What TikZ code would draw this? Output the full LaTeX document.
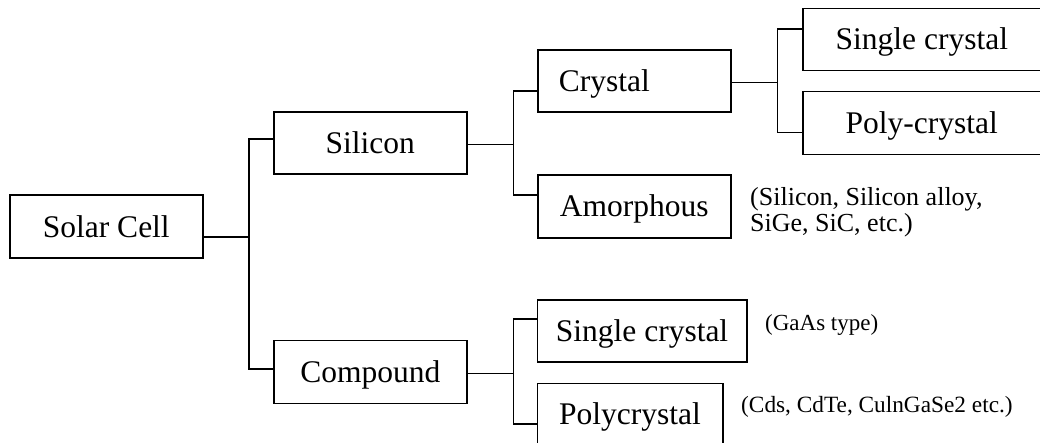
\documentclass[tikz,border=0pt]{standalone}
\usepackage{fontspec}
\setmainfont{Liberation Serif}
\begin{document}
\begin{tikzpicture}[x=1pt,y=-1pt,
  box/.style={draw=black, line width=1.6pt, anchor=north west, inner sep=0pt,
    font=\fontsize{31.5}{34}\selectfont, text height=20.8pt, text depth=0pt},
  ann/.style={anchor=base west, inner sep=0pt, align=left},
  link/.style={draw=black, line width=1.6pt}]
\useasboundingbox (0,0) rectangle (1040,442);
\fill[white] (0,0) rectangle (1040,442);
% boxes
\node[box, minimum width=193pt, minimum height=63pt] (solar) at (9,194.3) {Solar Cell};
\node[box, minimum width=193pt, minimum height=62pt] (sil) at (273,111) {Silicon};
\node[box, minimum width=193pt, minimum height=63pt] (comp) at (273,339.5) {Compound};
\node[box, minimum width=193pt, minimum height=62pt, text width=151pt, inner xsep=21pt, align=left] (cry) at (537,49) {Crystal};
\node[box, minimum width=193pt, minimum height=63pt] (amo) at (537,174) {Amorphous};
\node[box, minimum width=238pt, minimum height=62pt] (sc1) at (802,7.5) {Single crystal};
\node[box, minimum width=238pt, minimum height=63pt] (pc1) at (802,90.5) {Poly-crystal};
\node[box, minimum width=209.5pt, minimum height=62pt] (sc2) at (536.5,299) {Single crystal};
\node[box, minimum width=185.5pt, minimum height=62pt] (pc2) at (536.5,382.5) {Polycrystal};
% annotations
\node[ann, font=\fontsize{26}{26.7}\selectfont] (a1) at (750,231.7) {(Silicon, Silicon alloy,\\SiGe, SiC, etc.)};
\node[ann, font=\fontsize{23}{26}\selectfont] (a2) at (765,330) {(GaAs type)};
\node[ann, font=\fontsize{23.3}{26}\selectfont] (a3) at (741,412.3) {(Cds, CdTe, CulnGaSe2 etc.)};
% junction coordinates
\coordinate (j1t) at (249,139);
\coordinate (j1m) at (249,236.7);
\coordinate (j1b) at (249,369);
\coordinate (j2t) at (513.5,90.7);
\coordinate (j2m) at (513.5,144.3);
\coordinate (j2b) at (513.5,194.7);
\coordinate (j3t) at (513.5,319);
\coordinate (j3m) at (513.5,373.5);
\coordinate (j3b) at (513.5,424);
\coordinate (j4t) at (777.5,28.7);
\coordinate (j4m) at (777.5,82.5);
\coordinate (j4b) at (777.5,132.3);
% connectors
\draw[link] (solar.east |- j1m) -- (j1m);
\draw[link] (sil.west |- j1t) -- (j1t) -- (j1b) -- (comp.west |- j1b);
\draw[link] (sil.east |- j2m) -- (j2m);
\draw[link] (cry.west |- j2t) -- (j2t) -- (j2b) -- (amo.west |- j2b);
\draw[link] (comp.east |- j3m) -- (j3m);
\draw[link] (sc2.west |- j3t) -- (j3t) -- (j3b) -- (pc2.west |- j3b);
\draw[link] (cry.east |- j4m) -- (j4m);
\draw[link] (sc1.west |- j4t) -- (j4t) -- (j4b) -- (pc1.west |- j4b);
\end{tikzpicture}
\end{document}
